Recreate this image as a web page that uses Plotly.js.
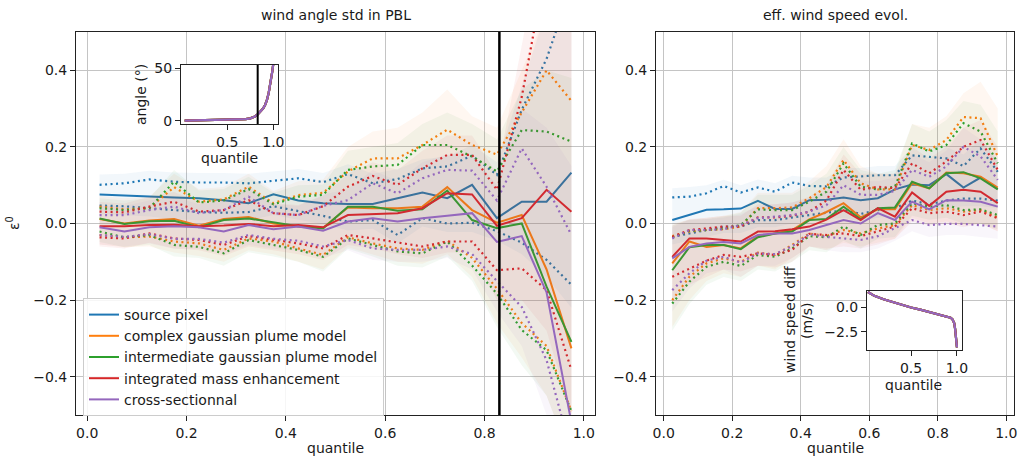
<!DOCTYPE html>
<html>
<head>
<meta charset="utf-8">
<script src="https://cdn.plot.ly/plotly-3.0.1.min.js"></script>
<style>html,body{margin:0;padding:0;background:#fff;}#chart{width:1019px;height:460px;}</style>
</head>
<body>
<div id="chart"></div>
<script>
// ---------------- data ----------------
const quantile = [0.025,0.075,0.125,0.175,0.225,0.275,0.325,0.375,0.425,0.475,0.525,0.575,0.625,0.675,0.725,0.775,0.825,0.875,0.925,0.975];
const methodNames = ['source pixel','complex gaussian plume model','intermediate gaussian plume model','integrated mass enhancement','cross-sectionnal'];
const thresholdQuantile = 0.83;

// left panel: wind angle std in PBL
const angMedSource  = [0.076,0.073,0.070,0.068,0.066,0.061,0.053,0.076,0.060,0.053,0.051,0.051,0.066,0.081,0.066,0.101,0.014,0.057,0.057,0.133];
const angMedComplex = [0.012,0.000,0.008,0.012,-0.006,0.012,0.017,0.000,-0.008,-0.011,0.042,0.040,0.040,0.044,0.095,0.035,0.002,0.022,-0.120,-0.326];
const angMedInter   = [0.013,-0.001,0.006,0.007,-0.010,0.009,0.013,0.002,-0.007,-0.013,0.044,0.044,0.033,0.037,0.086,0.009,-0.012,0.000,-0.165,-0.309];
const angMedIME     = [-0.007,-0.007,-0.004,-0.003,-0.007,-0.005,-0.001,-0.007,-0.004,-0.010,0.022,0.025,0.027,0.040,0.079,0.076,-0.006,0.014,0.088,0.031];
const angMedCS      = [-0.010,-0.021,-0.010,-0.007,-0.010,-0.021,-0.004,-0.015,-0.008,-0.019,0.005,0.014,0.005,0.014,0.020,0.027,-0.048,-0.033,-0.180,-0.520];

const angQ3Source  = [0.101,0.105,0.115,0.109,0.107,0.107,0.105,0.112,0.118,0.108,0.129,0.105,0.116,0.144,0.149,0.177,0.127,0.297,0.430,0.620];
const angQ3Complex = [0.044,0.037,0.040,0.095,0.057,0.063,0.096,0.053,0.074,0.080,0.136,0.170,0.170,0.205,0.245,0.205,0.180,0.290,0.400,0.320];
const angQ3Inter   = [0.040,0.035,0.040,0.109,0.055,0.060,0.090,0.050,0.070,0.075,0.140,0.149,0.153,0.205,0.205,0.175,0.136,0.244,0.240,0.214];
const angQ3IME     = [0.031,0.029,0.044,0.057,0.031,0.035,0.061,0.027,0.022,0.045,0.096,0.124,0.101,0.144,0.179,0.179,0.088,0.330,0.680,0.850];
const angQ3CS      = [0.022,0.022,0.035,0.044,0.027,0.035,0.070,0.027,0.022,0.046,0.061,0.105,0.079,0.118,0.140,0.138,0.060,0.196,0.096,-0.030];

const angQ1Source  = [0.047,0.045,0.040,0.035,0.030,0.028,0.030,0.045,0.032,0.020,0.005,0.009,-0.030,0.014,0.000,0.002,-0.020,-0.050,-0.095,-0.160];
const angQ1Complex = [-0.030,-0.036,-0.034,-0.047,-0.052,-0.069,-0.039,-0.047,-0.065,-0.082,-0.036,-0.052,-0.065,-0.069,-0.045,-0.090,-0.170,-0.260,-0.320,-0.490];
const angQ1Inter   = [-0.021,-0.036,-0.030,-0.056,-0.061,-0.078,-0.043,-0.056,-0.069,-0.087,-0.039,-0.056,-0.073,-0.078,-0.047,-0.110,-0.183,-0.278,-0.331,-0.490];
const angQ1IME     = [-0.036,-0.039,-0.026,-0.039,-0.043,-0.056,-0.033,-0.043,-0.052,-0.065,-0.030,-0.039,-0.050,-0.060,-0.047,-0.047,-0.122,-0.117,-0.174,-0.383];
const angQ1CS      = [-0.030,-0.035,-0.028,-0.040,-0.040,-0.050,-0.030,-0.040,-0.045,-0.060,-0.043,-0.065,-0.069,-0.069,-0.060,-0.080,-0.150,-0.218,-0.357,-0.600];

const angHiSource  = [0.128,0.130,0.138,0.133,0.132,0.132,0.130,0.136,0.142,0.132,0.155,0.130,0.142,0.168,0.175,0.205,0.160,0.360,0.560,0.750];
const angLoSource  = [0.025,0.022,0.018,0.012,0.008,0.005,0.008,0.022,0.010,-0.002,-0.018,-0.014,-0.052,-0.008,-0.022,-0.022,-0.045,-0.080,-0.140,-0.220];
const angHiComplex = [0.072,0.066,0.070,0.130,0.090,0.095,0.130,0.085,0.110,0.115,0.200,0.240,0.250,0.290,0.350,0.280,0.250,0.400,0.550,0.500];
const angLoComplex = [-0.055,-0.062,-0.060,-0.076,-0.085,-0.100,-0.070,-0.080,-0.100,-0.120,-0.062,-0.082,-0.100,-0.105,-0.080,-0.140,-0.260,-0.350,-0.450,-0.620];
const angHiInter   = [0.066,0.060,0.066,0.140,0.086,0.090,0.122,0.080,0.100,0.102,0.190,0.200,0.210,0.260,0.290,0.260,0.220,0.350,0.400,0.380];
const angLoInter   = [-0.048,-0.062,-0.056,-0.086,-0.090,-0.110,-0.075,-0.086,-0.100,-0.125,-0.066,-0.086,-0.110,-0.115,-0.086,-0.150,-0.270,-0.370,-0.450,-0.620];
const angHiIME     = [0.056,0.052,0.070,0.082,0.056,0.062,0.090,0.052,0.048,0.072,0.130,0.160,0.140,0.190,0.230,0.230,0.130,0.450,0.800,1.000];
const angLoIME     = [-0.060,-0.065,-0.050,-0.065,-0.070,-0.085,-0.060,-0.070,-0.080,-0.095,-0.056,-0.066,-0.080,-0.090,-0.076,-0.076,-0.200,-0.200,-0.280,-0.500];
const angHiCS      = [0.046,0.046,0.060,0.070,0.050,0.060,0.100,0.050,0.046,0.075,0.090,0.140,0.110,0.160,0.180,0.180,0.100,0.300,0.250,0.150];
const angLoCS      = [-0.055,-0.060,-0.052,-0.066,-0.066,-0.080,-0.056,-0.066,-0.072,-0.090,-0.070,-0.095,-0.100,-0.100,-0.090,-0.120,-0.230,-0.320,-0.500,-0.750];

// right panel: eff. wind speed evol.
const spdMedSource  = [0.009,0.022,0.036,0.037,0.039,0.059,0.038,0.038,0.061,0.062,0.068,0.061,0.066,0.089,0.102,0.100,0.129,0.094,0.120,0.090];
const spdMedComplex = [-0.104,-0.047,-0.061,-0.056,-0.065,-0.033,-0.026,-0.017,0.011,0.030,0.053,0.016,0.037,0.037,0.105,0.092,0.133,0.131,0.122,0.094];
const spdMedInter   = [-0.122,-0.062,-0.056,-0.056,-0.067,-0.036,-0.026,-0.021,0.009,0.012,0.044,0.011,0.040,0.042,0.109,0.092,0.131,0.134,0.118,0.089];
const spdMedIME     = [-0.087,-0.039,-0.039,-0.043,-0.047,-0.021,-0.020,-0.015,-0.008,0.010,0.035,0.009,0.040,0.018,0.081,0.046,0.083,0.088,0.083,0.053];
const spdMedCS      = [-0.091,-0.061,-0.052,-0.048,-0.052,-0.030,-0.026,-0.026,-0.017,-0.004,0.009,0.000,0.027,0.009,0.057,0.037,0.061,0.060,0.057,0.044];

const spdQ3Source  = [0.068,0.070,0.079,0.098,0.081,0.094,0.083,0.107,0.098,0.097,0.120,0.123,0.126,0.126,0.178,0.174,0.170,0.150,0.196,0.135];
const spdQ3Complex = [-0.033,-0.021,-0.017,-0.015,-0.008,0.040,0.040,0.042,0.066,0.095,0.166,0.105,0.089,0.089,0.205,0.192,0.218,0.278,0.275,0.175];
const spdQ3Inter   = [-0.036,-0.019,-0.017,-0.013,-0.004,0.037,0.035,0.035,0.057,0.083,0.157,0.096,0.089,0.096,0.209,0.188,0.205,0.262,0.240,0.157];
const spdQ3IME     = [-0.035,-0.017,-0.013,-0.008,-0.008,0.016,0.016,0.020,0.031,0.060,0.140,0.088,0.096,0.092,0.157,0.131,0.162,0.200,0.218,0.140];
const spdQ3CS      = [-0.039,-0.017,-0.017,-0.015,-0.004,0.014,0.018,0.022,0.031,0.048,0.100,0.075,0.075,0.085,0.140,0.122,0.149,0.200,0.175,0.114];

const spdQ1Source  = [-0.035,-0.026,-0.017,-0.008,-0.008,0.009,0.009,0.016,0.022,0.028,0.035,0.025,0.035,0.040,0.060,0.050,0.060,0.065,0.065,0.060];
const spdQ1Complex = [-0.200,-0.139,-0.104,-0.091,-0.100,-0.076,-0.082,-0.056,-0.026,-0.033,-0.017,-0.026,-0.013,-0.004,0.048,0.035,0.040,0.031,0.035,0.016];
const spdQ1Inter   = [-0.209,-0.152,-0.113,-0.100,-0.111,-0.082,-0.087,-0.065,-0.033,-0.036,-0.008,-0.030,-0.004,0.000,0.053,0.044,0.048,0.035,0.037,0.022];
const spdQ1IME     = [-0.139,-0.117,-0.097,-0.082,-0.087,-0.078,-0.082,-0.069,-0.027,-0.030,-0.026,-0.033,-0.021,-0.008,0.040,0.027,0.031,0.022,0.031,0.014];
const spdQ1CS      = [-0.174,-0.130,-0.097,-0.087,-0.102,-0.078,-0.080,-0.059,-0.028,-0.035,-0.039,-0.043,-0.033,-0.013,0.009,-0.004,-0.001,-0.001,-0.004,-0.008];

const spdHiSource  = [0.092,0.095,0.100,0.114,0.100,0.115,0.105,0.125,0.120,0.120,0.145,0.145,0.150,0.150,0.200,0.200,0.200,0.180,0.220,0.165];
const spdLoSource  = [-0.055,-0.045,-0.035,-0.025,-0.025,-0.010,-0.010,0.000,0.005,0.010,0.015,0.005,0.015,0.020,0.040,0.030,0.040,0.045,0.045,0.040];
const spdHiComplex = [0.000,0.010,0.015,0.020,0.030,0.080,0.080,0.080,0.110,0.150,0.220,0.150,0.130,0.130,0.260,0.250,0.280,0.340,0.370,0.300];
const spdLoComplex = [-0.270,-0.200,-0.150,-0.130,-0.140,-0.110,-0.120,-0.090,-0.060,-0.070,-0.050,-0.060,-0.050,-0.040,0.015,0.000,0.005,-0.005,0.000,-0.020];
const spdHiInter   = [-0.005,0.010,0.012,0.018,0.028,0.075,0.075,0.075,0.100,0.130,0.200,0.140,0.130,0.140,0.260,0.240,0.270,0.320,0.310,0.240];
const spdLoInter   = [-0.280,-0.210,-0.160,-0.140,-0.150,-0.120,-0.125,-0.100,-0.070,-0.075,-0.045,-0.065,-0.040,-0.035,0.020,0.010,0.015,0.000,0.000,-0.015];
const spdHiIME     = [-0.005,0.012,0.015,0.020,0.020,0.050,0.050,0.055,0.070,0.100,0.180,0.130,0.130,0.130,0.200,0.170,0.200,0.250,0.270,0.200];
const spdLoIME     = [-0.200,-0.160,-0.140,-0.120,-0.125,-0.110,-0.115,-0.100,-0.060,-0.065,-0.060,-0.065,-0.055,-0.040,0.005,-0.005,0.000,-0.010,0.000,-0.020];
const spdHiCS      = [-0.010,0.010,0.012,0.015,0.025,0.045,0.050,0.055,0.065,0.085,0.140,0.110,0.110,0.120,0.180,0.160,0.190,0.250,0.220,0.160];
const spdLoCS      = [-0.230,-0.170,-0.130,-0.120,-0.140,-0.110,-0.110,-0.090,-0.060,-0.070,-0.075,-0.075,-0.065,-0.045,-0.020,-0.035,-0.030,-0.030,-0.035,-0.040];

// insets
const insetAngleQ = [0.04,0.1,0.2,0.3,0.4,0.5,0.6,0.7,0.75,0.8,0.83,0.86,0.89,0.91,0.93,0.95,0.97,0.99,1.0];
const insetAngle  = [0.1,0.2,0.3,0.4,0.5,0.7,0.9,1.4,2.2,4.0,6.0,8.5,11.8,15,19.5,27,36,48,55];
const insetSpeedQ = [0.03,0.1,0.2,0.3,0.4,0.5,0.6,0.7,0.8,0.85,0.9,0.93,0.95,0.97,0.98,0.99,1.0];
const insetSpeed  = [1.6,1.2,0.85,0.55,0.28,0.0,-0.22,-0.45,-0.7,-0.82,-0.95,-1.05,-1.2,-1.6,-2.2,-3.0,-4.1];

// ---------------- styling / building ----------------
const colorsRGB = [[31,119,180],[255,127,14],[44,160,44],[214,39,40],[148,103,189]];
const rgb = c => `rgb(${c[0]},${c[1]},${c[2]})`;
const rgba = (c,a) => `rgba(${c[0]},${c[1]},${c[2]},${a})`;

const angMed = [angMedSource,angMedComplex,angMedInter,angMedIME,angMedCS];
const angQ1 = [angQ1Source,angQ1Complex,angQ1Inter,angQ1IME,angQ1CS];
const angQ3 = [angQ3Source,angQ3Complex,angQ3Inter,angQ3IME,angQ3CS];
const angLo = [angLoSource,angLoComplex,angLoInter,angLoIME,angLoCS];
const angHi = [angHiSource,angHiComplex,angHiInter,angHiIME,angHiCS];
const spdMed = [spdMedSource,spdMedComplex,spdMedInter,spdMedIME,spdMedCS];
const spdQ1 = [spdQ1Source,spdQ1Complex,spdQ1Inter,spdQ1IME,spdQ1CS];
const spdQ3 = [spdQ3Source,spdQ3Complex,spdQ3Inter,spdQ3IME,spdQ3CS];
const spdLo = [spdLoSource,spdLoComplex,spdLoInter,spdLoIME,spdLoCS];
const spdHi = [spdHiSource,spdHiComplex,spdHiInter,spdHiIME,spdHiCS];

const traces = [];
function addPanel(xa, ya, med, q1, q3, lo, hi, legend) {
  for (let m = 0; m < 5; m++) {
    const c = colorsRGB[m];
    traces.push({type:'scatter', mode:'lines', x:quantile, y:lo[m], xaxis:xa, yaxis:ya,
      line:{width:0, color:rgba(c,0)}, showlegend:false, hoverinfo:'skip'});
    traces.push({type:'scatter', mode:'lines', x:quantile, y:hi[m], xaxis:xa, yaxis:ya,
      line:{width:0, color:rgba(c,0)}, fill:'tonexty', fillcolor:rgba(c,0.06), showlegend:false, hoverinfo:'skip'});
    traces.push({type:'scatter', mode:'lines', x:quantile, y:q1[m], xaxis:xa, yaxis:ya,
      line:{width:2.2, color:rgb(c), dash:'2px,3.5px'}, showlegend:false});
    traces.push({type:'scatter', mode:'lines', x:quantile, y:q3[m], xaxis:xa, yaxis:ya,
      line:{width:2.2, color:rgb(c), dash:'2px,3.5px'}, showlegend:false});
    traces.push({type:'scatter', mode:'lines', x:quantile, y:med[m], xaxis:xa, yaxis:ya,
      line:{width:2, color:rgb(c)}, name:methodNames[m], showlegend:legend});
  }
}
addPanel('x','y', angMed, angQ1, angQ3, angLo, angHi, true);
addPanel('x2','y2', spdMed, spdQ1, spdQ3, spdLo, spdHi, false);

// insets: overlapping curves for each method
for (let m = 0; m < 5; m++) {
  traces.push({type:'scatter', mode:'lines', x:insetAngleQ, y:insetAngle, xaxis:'x3', yaxis:'y3',
    line:{width:2.2, color:rgb(colorsRGB[m])}, showlegend:false});
  traces.push({type:'scatter', mode:'lines', x:insetSpeedQ, y:insetSpeed, xaxis:'x4', yaxis:'y4',
    line:{width:2.2, color:rgb(colorsRGB[m])}, showlegend:false});
}

// ---------------- layout ----------------
const W = 1019, H = 460;
const px = v => v / W;
const py = v => 1 - v / H;
const FONT = 'DejaVu Sans, sans-serif';
const TXT = '#1a1a1a';

function mainAxis(extra) {
  return Object.assign({
    showgrid:true, gridcolor:'#c4c4c4', gridwidth:1, zeroline:false,
    showline:true, mirror:true, linecolor:'#222', linewidth:1,
    ticks:'outside', ticklen:5, tickwidth:1, tickcolor:'#222',
    tickfont:{family:FONT, size:14, color:TXT}, automargin:false, fixedrange:true
  }, extra);
}
function insetAxis(extra) {
  return Object.assign({
    showgrid:false, zeroline:false,
    showline:true, mirror:true, linecolor:'#222', linewidth:1,
    ticks:'outside', ticklen:5, tickwidth:1, tickcolor:'#222',
    tickfont:{family:FONT, size:14, color:TXT}, automargin:false, fixedrange:true
  }, extra);
}
const mainYDomain = [py(415), py(32)];

const layout = {
  width:W, height:H,
  margin:{l:0, r:0, t:0, b:0, pad:0},
  paper_bgcolor:'white', plot_bgcolor:'white',
  font:{family:FONT, size:14, color:TXT},
  xaxis: mainAxis({domain:[px(76), px(595)], anchor:'y', range:[-0.0225,1.0225], tickvals:[0,0.2,0.4,0.6,0.8,1.0], tickformat:'.1f'}),
  yaxis: mainAxis({domain:mainYDomain, anchor:'x', range:[-0.5,0.5], tickvals:[-0.4,-0.2,0,0.2,0.4], tickformat:'.1f'}),
  xaxis2: mainAxis({domain:[px(656), px(1014)], anchor:'y2', range:[-0.0225,1.0225], tickvals:[0,0.2,0.4,0.6,0.8,1.0], tickformat:'.1f'}),
  yaxis2: mainAxis({domain:mainYDomain, anchor:'x2', range:[-0.5,0.5], tickvals:[-0.4,-0.2,0,0.2,0.4], tickformat:'.1f'}),
  xaxis3: insetAxis({domain:[px(181), px(278)], anchor:'y3', range:[0,1.05], tickvals:[0.5,1.0], tickformat:'.1f'}),
  yaxis3: insetAxis({domain:[py(124), py(65)], anchor:'x3', range:[-3.2,53.2], tickvals:[0,50], tickformat:'d'}),
  xaxis4: insetAxis({domain:[px(867), px(962)], anchor:'y4', range:[0.02,1.055], tickvals:[0.5,1.0], tickformat:'.1f'}),
  yaxis4: insetAxis({domain:[py(350), py(291)], anchor:'x4', range:[-4.38,1.70], tickvals:[-2.5,0], tickformat:'.1f'}),
  showlegend:true,
  legend:{x:px(83), y:py(298), xanchor:'left', yanchor:'top', traceorder:'normal',
    bgcolor:'rgba(255,255,255,0.85)', bordercolor:'#cccccc', borderwidth:1,
    font:{family:FONT, size:14, color:TXT}},
  shapes:[
    {type:'line', xref:'x', yref:'y domain', x0:thresholdQuantile, x1:thresholdQuantile, y0:0, y1:1, line:{color:'black', width:2.5}},
    {type:'line', xref:'x3', yref:'y3 domain', x0:thresholdQuantile, x1:thresholdQuantile, y0:0, y1:1, line:{color:'black', width:2}}
  ],
  annotations:[
    {text:'wind angle std in PBL', x:px(335.5), y:py(15), xref:'paper', yref:'paper', showarrow:false, xanchor:'center', yanchor:'middle', font:{size:14}},
    {text:'eff. wind speed evol.', x:px(835), y:py(15), xref:'paper', yref:'paper', showarrow:false, xanchor:'center', yanchor:'middle', font:{size:14}},
    {text:'quantile', x:px(335.5), y:py(448), xref:'paper', yref:'paper', showarrow:false, xanchor:'center', yanchor:'middle', font:{size:14}},
    {text:'quantile', x:px(835), y:py(448), xref:'paper', yref:'paper', showarrow:false, xanchor:'center', yanchor:'middle', font:{size:14}},
    {text:'ε<sup>0</sup>', x:px(13), y:py(223), xref:'paper', yref:'paper', showarrow:false, xanchor:'center', yanchor:'middle', textangle:-90, font:{size:14}},
    {text:'angle (°)', x:px(141), y:py(95), xref:'paper', yref:'paper', showarrow:false, xanchor:'center', yanchor:'middle', textangle:-90, font:{size:14}},
    {text:'quantile', x:px(229), y:py(158), xref:'paper', yref:'paper', showarrow:false, xanchor:'center', yanchor:'middle', font:{size:14}},
    {text:'wind speed diff', x:px(790), y:py(320), xref:'paper', yref:'paper', showarrow:false, xanchor:'center', yanchor:'middle', textangle:-90, font:{size:14}},
    {text:'(m/s)', x:px(807), y:py(321), xref:'paper', yref:'paper', showarrow:false, xanchor:'center', yanchor:'middle', textangle:-90, font:{size:14}},
    {text:'quantile', x:px(913), y:py(385), xref:'paper', yref:'paper', showarrow:false, xanchor:'center', yanchor:'middle', font:{size:14}}
  ]
};

Plotly.newPlot('chart', traces, layout, {displayModeBar:false, staticPlot:true});
</script>
</body>
</html>
